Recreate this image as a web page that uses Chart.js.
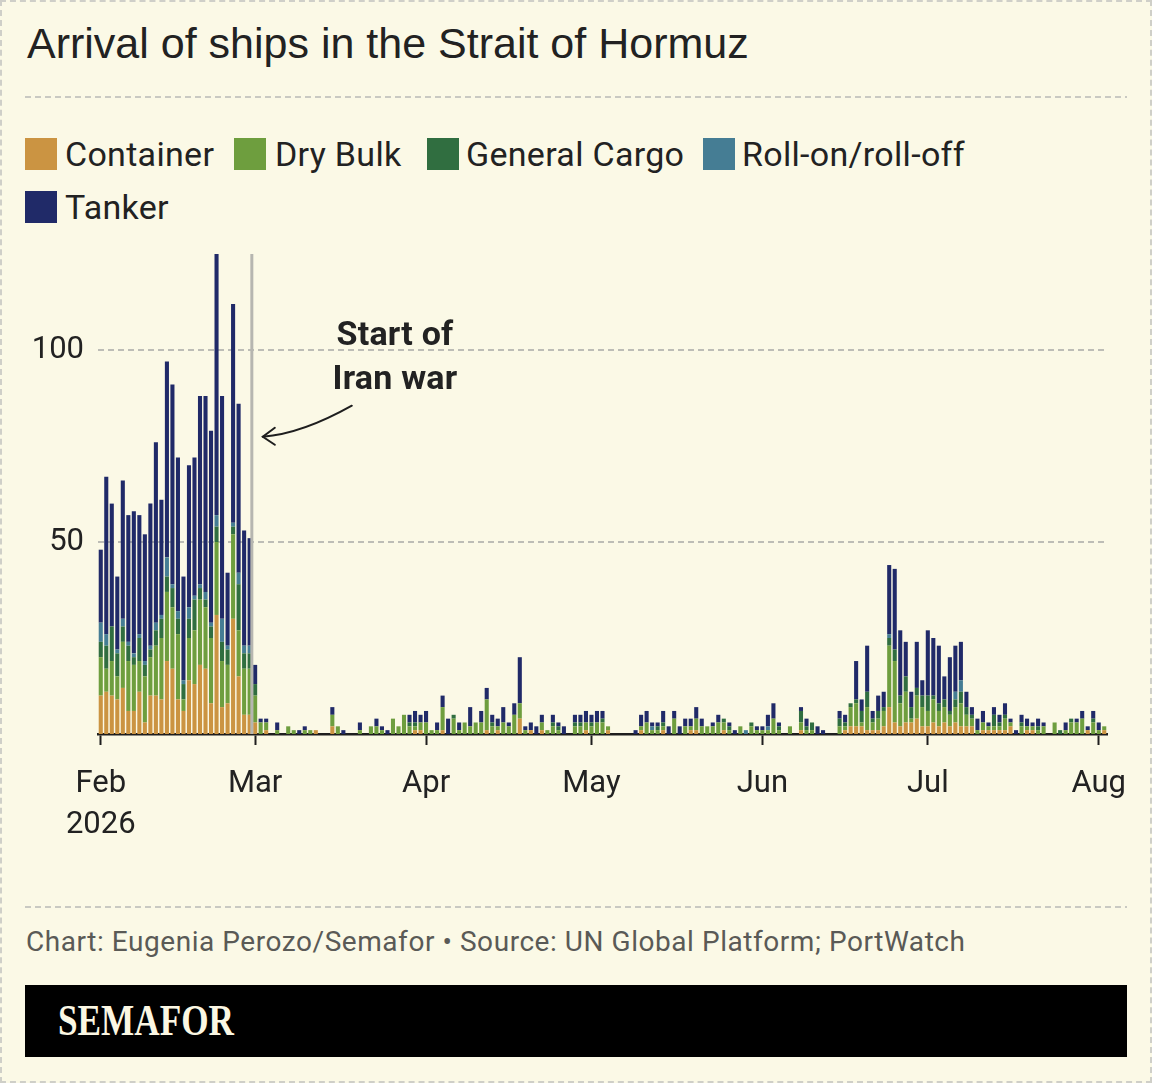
<!DOCTYPE html>
<html>
<head>
<meta charset="utf-8">
<title>Arrival of ships in the Strait of Hormuz</title>
<script src="https://cdn.jsdelivr.net/npm/chart.js@4.4.1/dist/chart.umd.min.js"></script>
<style>
  html, body { margin: 0; padding: 0; }
  body { width: 1152px; height: 1083px; background: #FBF9E6; position: relative; overflow: hidden; font-family: Roboto, "Noto Sans", sans-serif; color: #222; }
  .frame { position: absolute; left: 0; top: 0; width: 1148px; height: 1079px; border: 2px dashed #cfcfc8; }
  .title { position: absolute; left: 27px; top: 22px; font-family: "Liberation Sans", Arial, sans-serif; font-size: 43px; line-height: 43px; color: #222; white-space: nowrap; }
  .sep { position: absolute; left: 25px; width: 1102px; height: 2px; background: repeating-linear-gradient(to right, #c9c9c2 0 6px, transparent 6px 10px); }
  .lg-sq { position: absolute; width: 32px; height: 32px; }
  .lg-tx { position: absolute; font-size: 34px; line-height: 34px; white-space: nowrap; color: #222; letter-spacing: 0.3px; }
  .chartbox { position: absolute; left: 0; top: 240px; width: 1152px; height: 620px; }
  .annot { position: absolute; left: 295px; top: 311px; width: 200px; text-align: center; font-weight: 700; font-size: 34px; line-height: 44px; color: #222; white-space: nowrap; letter-spacing: 0.2px; }
  .footer { position: absolute; left: 26px; top: 928px; font-size: 28px; line-height: 28px; color: #5a5a56; white-space: nowrap; letter-spacing: 0.55px; }
  .brand { position: absolute; left: 25px; top: 985px; width: 1102px; height: 72px; background: #000; }
  .brand span { position: absolute; left: 33px; top: 14px; font-family: "Liberation Serif", "Times New Roman", serif; font-weight: 700; font-size: 44px; line-height: 44px; color: #FBF7E3; transform: scaleX(0.8); transform-origin: left center; white-space: nowrap; }
</style>
</head>
<body>
<div class="frame"></div>
<div class="title">Arrival of ships in the Strait of Hormuz</div>
<div class="sep" style="top:96px"></div>

<div id="legend"></div>

<div class="chartbox"><canvas id="c"></canvas></div>
<div class="annot">Start of<br>Iran war</div>

<div class="sep" style="top:906px"></div>
<div class="footer">Chart: Eugenia Perozo/Semafor • Source: UN Global Platform; PortWatch</div>
<div class="brand"><span>SEMAFOR</span></div>

<script>
// ---------------- DATA (daily arrivals, 1 Feb – 2 Aug 2026) ----------------
const startDate = '2026-02-01';
const warStartDate = '2026-02-28';

const seriesNames = ['Container', 'Dry Bulk', 'General Cargo', 'Roll-on/roll-off', 'Tanker'];
const seriesColors = ['#CB9442', '#6E9E3E', '#306E40', '#457D94', '#202A68'];

const container = [
  // Feb
  10,11,10,9,12,6,6,11,3,10, 10,9,19,17,9,6,14,13,18,17, 8,31,7,8,30,15,5,5,
  // Mar
  3,0,1,0,0,0,0,0,0,0, 0,1,0,0,2,0,0,0,0,0, 0,0,0,0,0,0,0,0,0,1,1,
  // Apr
  0,0,0,1,0,0,0,0,0,0, 0,1,0,1,0,0,0,4,0,1, 0,1,0,0,0,0,0,0,0,1,
  // May
  0,0,0,1,0,0,0,0,0,1, 0,0,0,1,0,0,0,0,1,1, 0,0,0,0,1,0,0,0,0,0,0,
  // Jun
  0,0,0,0,0,0,0,1,0,0, 0,0,0,0,0,1,2,2,2,1, 1,1,2,7,3,2,3,3,4,2,
  // Jul
  2,3,2,3,2,3,2,2,2,0, 1,1,1,1,1,2,0,0,1,1, 0,0,0,0,0,0,0,0,0,1,0,
  // Aug
  0,1
];

const dryBulk = [
  10,6,9,6,12,13,12,8,12,10, 13,16,18,16,17,3,11,14,17,16, 17,19,12,10,22,12,12,12,
  7,3,2,0,1,0,2,1,0,1, 1,0,0,0,3,2,0,0,0,1, 0,2,2,1,0,4,2,5,2,1,2,
  3,1,1,6,0,4,1,3,2,3, 3,8,2,1,3,2,5,4,1,0, 0,2,1,2,1,0,0,2,2,2,
  2,3,3,1,0,0,0,0,0,1, 3,1,1,1,0,4,0,2,1,3, 2,2,2,3,2,1,0,2,0,2,1,
  1,1,4,1,0,2,0,2,1,1, 0,0,0,0,2,1,5,6,1,6, 2,3,4,16,16,6,8,1,6,5,
  4,6,4,4,3,4,6,3,2,1, 2,1,1,1,3,1,0,2,1,1, 1,2,0,3,0,1,3,3,4,0,3,
  1,1
];

const generalCargo = [
  4,6,9,6,4,4,2,6,3,2, 4,5,4,5,4,4,5,8,3,2, 3,4,5,4,2,12,4,4,
  3,0,0,0,0,0,0,0,0,0, 0,0,0,0,0,0,0,0,0,0, 0,0,0,0,0,0,0,0,1,1,0,
  0,0,0,0,0,1,0,0,0,0, 0,0,1,0,0,0,0,0,0,0, 0,0,0,1,1,0,0,1,1,0,
  1,0,1,0,0,0,0,0,0,0, 0,0,1,1,0,0,0,0,0,0, 0,0,0,0,1,1,0,0,0,1,0,
  0,0,0,1,0,0,0,3,1,2, 0,0,0,0,2,1,1,1,3,4, 1,2,1,2,3,2,4,3,2,3,
  4,1,2,2,1,2,3,2,1,0, 0,0,3,1,1,0,0,1,0,0, 1,0,0,0,1,0,1,0,0,0,1,
  0,0
];

const rollOnRollOff = [
  5,3,0,1,2,1,1,1,1,1, 2,1,5,1,2,1,3,1,1,2, 1,3,6,1,1,3,2,2,
  0,0,0,0,0,0,0,0,0,0, 0,0,0,0,0,0,0,0,0,0, 0,0,0,0,0,0,0,0,0,0,0,
  0,0,0,0,0,0,0,0,0,0, 0,0,0,0,0,0,0,0,0,0, 0,0,0,0,0,0,0,0,0,0,
  0,0,0,0,0,0,0,0,0,0, 0,1,0,0,0,0,0,0,0,0, 0,0,0,0,0,0,0,0,1,0,0,
  0,1,0,0,0,0,0,0,0,0, 0,0,0,0,0,0,0,0,0,0, 0,0,0,1,0,0,0,0,0,0,
  0,0,0,0,0,2,3,0,0,0, 0,0,0,0,0,0,0,0,0,0, 0,0,0,0,0,0,0,0,0,0,0,
  0,0
];

const tanker = [
  19,41,32,19,36,33,37,31,33,37, 47,30,51,52,40,27,37,36,49,51, 50,68,58,19,57,44,30,28,
  5,1,1,0,2,0,0,0,1,1, 0,0,0,0,2,0,1,0,0,2, 0,0,2,1,1,0,0,0,2,3,2,
  3,0,2,3,4,0,2,0,5,0, 3,3,2,2,4,1,3,12,1,2, 2,2,0,2,1,2,0,2,2,3,
  2,3,2,0,0,0,0,0,1,3, 3,1,1,3,2,2,2,2,2,3, 2,0,1,2,0,1,1,0,0,0,1,
  1,3,4,1,0,0,0,1,2,0, 2,1,0,0,2,2,0,10,3,12, 2,4,4,18,21,17,9,4,12,4,
  17,15,15,6,14,12,10,4,2,3, 3,1,2,2,3,1,1,2,2,1, 2,1,0,0,0,2,0,1,2,1,2,
  2,0
];

const monthTickDates = ['2026-02-01','2026-03-01','2026-04-01','2026-05-01','2026-06-01','2026-07-01','2026-08-01'];
const monthTickLabels = [['Feb','2026'],'Mar','Apr','May','Jun','Jul','Aug'];
const yTickValues = [50, 100];
const yMax = 125;

// ---------------- categories (one per day) ----------------
const categories = [];
{
  const d0 = new Date(startDate + 'T00:00:00Z');
  for (let i = 0; i < container.length; i++) {
    const d = new Date(d0.getTime() + i * 86400000);
    categories.push(d.toISOString().slice(0, 10));
  }
}

// ---------------- legend (HTML) ----------------
const legendPos = [
  {sq:[25,138], tx:[65,137]},
  {sq:[234,138], tx:[275,137]},
  {sq:[427,138], tx:[466,137]},
  {sq:[703,138], tx:[742,137]},
  {sq:[25,191], tx:[65,190]}
];
const lg = document.getElementById('legend');
seriesNames.forEach((n, i) => {
  const s = document.createElement('div');
  s.className = 'lg-sq';
  s.style.left = legendPos[i].sq[0] + 'px';
  s.style.top = legendPos[i].sq[1] + 'px';
  s.style.background = seriesColors[i];
  lg.appendChild(s);
  const t = document.createElement('div');
  t.className = 'lg-tx';
  t.style.left = legendPos[i].tx[0] + 'px';
  t.style.top = legendPos[i].tx[1] + 'px';
  t.textContent = n;
  lg.appendChild(t);
});

// ---------------- war line + arrow plugin ----------------
const warPlugin = {
  id: 'warLine',
  afterDatasetsDraw(chart) {
    const {ctx, chartArea} = chart;
    const x = chart.scales.x, y = chart.scales.y;
    const i = categories.indexOf(warStartDate);
    const step = x.getPixelForValue(i + 1) - x.getPixelForValue(i);
    const wx = x.getPixelForValue(i) + step * 0.4;
    ctx.save();
    ctx.strokeStyle = '#b6b6b0';
    ctx.lineWidth = 3;
    ctx.beginPath();
    ctx.moveTo(wx, chartArea.top);
    ctx.lineTo(wx, chartArea.bottom);
    ctx.stroke();

    const tipX = wx + 11, tipY = y.getPixelForValue(77.4);
    const sx = wx + 100, sy = y.getPixelForValue(85.5);
    ctx.strokeStyle = '#1e1e1e';
    ctx.lineWidth = 2;
    ctx.lineCap = 'round';
    ctx.beginPath();
    ctx.moveTo(sx, sy);
    ctx.quadraticCurveTo(wx + 50, tipY - 3, tipX, tipY);
    ctx.stroke();
    ctx.beginPath();
    ctx.moveTo(tipX + 12, tipY - 9);
    ctx.lineTo(tipX, tipY);
    ctx.lineTo(tipX + 12, tipY + 8);
    ctx.stroke();
    ctx.restore();
  }
};

const tickFont = {family: 'Roboto', size: 31};

function build() {
  const datasets = [container, dryBulk, generalCargo, rollOnRollOff, tanker].map((arr, i) => ({
    label: seriesNames[i],
    data: arr,
    backgroundColor: seriesColors[i],
    borderWidth: 0,
    stack: 'ships',
    categoryPercentage: 1.0,
    barPercentage: 0.74
  }));

  new Chart(document.getElementById('c'), {
    type: 'bar',
    data: { labels: categories, datasets },
    options: {
      responsive: true,
      maintainAspectRatio: false,
      animation: false,
      devicePixelRatio: 1,
      layout: { padding: { top: 14, right: 45, left: 0, bottom: 0 } },
      plugins: { legend: { display: false }, tooltip: { enabled: false } },
      scales: {
        x: {
          type: 'category',
          stacked: true,
          offset: true,
          afterFit: (s) => { s.height = 126; },
          grid: {
            display: true,
            drawOnChartArea: false,
            drawTicks: true,
            tickLength: 11,
            tickWidth: 2,
            offset: false,
            tickColor: (c) => (c.tick && c.tick.label && c.tick.label !== '') ? '#1e1e1e' : 'rgba(0,0,0,0)'
          },
          border: { display: true, color: '#1e1e1e', width: 2.5 },
          ticks: {
            autoSkip: false,
            maxRotation: 0,
            minRotation: 0,
            padding: 19,
            color: '#222',
            font: { family: 'Roboto', size: 31, lineHeight: 1.31 },
            callback: (v, idx) => {
              const k = monthTickDates.indexOf(categories[idx]);
              return k >= 0 ? monthTickLabels[k] : '';
            }
          }
        },
        y: {
          stacked: true,
          min: 0,
          max: yMax,
          afterFit: (s) => { s.width = 98; s.paddingTop = 0; s.paddingBottom = 0; },
          afterBuildTicks: (s) => { s.ticks = yTickValues.map(v => ({value: v})); },
          grid: { color: '#bdbdb6', lineWidth: 2, drawTicks: false },
          border: { display: false, dash: [6, 4] },
          ticks: { padding: 14, color: '#222', font: tickFont }
        }
      }
    },
    plugins: [warPlugin]
  });
}

if (document.fonts && document.fonts.ready) {
  Promise.all([document.fonts.load('31px Roboto'), document.fonts.load('bold 34px Roboto')]).catch(()=>{}).then(build);
} else { build(); }
</script>
</body>
</html>
